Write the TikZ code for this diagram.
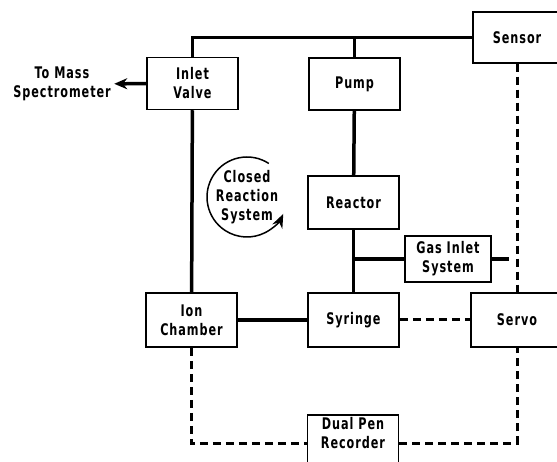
\documentclass[tikz,border=0pt]{standalone}
\usepackage{fontspec}
\newfontfamily\diafont[FakeStretch=0.78, LetterSpace=6]{DejaVu Sans Condensed}
\usetikzlibrary{arrows.meta, positioning}

\begin{document}
\begin{tikzpicture}[x=1pt, y=-1pt,
        >=Stealth,
        box/.style={draw, line width=1.5pt, minimum width=91pt, minimum height=52pt,
        align=center, inner sep=3pt, font=\fontsize{16}{19}\selectfont\diafont\bfseries},
        pipe/.style={line width=3.5pt},
        sig/.style={line width=3pt, dash pattern=on 8pt off 5pt},
        arr/.style={->, line width=3.5pt, >={Stealth[length=13pt, width=11pt]}},
        lbl/.style={align=center, font=\fontsize{16}{19}\selectfont\diafont\bfseries}
      ]
      \useasboundingbox (0,0) rectangle (557,462);

      % Nodes
      \node[box] (inlet) at (192.5, 83.5) {Inlet\\Valve};
      \node[box] (pump) at (354.5, 84) {Pump};
      \node[box, minimum width=88pt, minimum height=51pt] (sensor) at (517, 37.5) {Sensor};
      \node[box, minimum height=53pt] (reactor) at (353.5, 202.5) {Reactor};
      \node[box, minimum width=86pt, minimum height=46pt] (gas) at (448, 259) {Gas Inlet\\System};
      \node[box, minimum height=54pt] (ion) at (191.5, 320) {Ion\\Chamber};
      \node[box, minimum height=54pt] (syringe) at (353.5, 320) {Syringe};
      \node[box, minimum width=92pt, minimum height=54pt] (servo) at (517, 320) {Servo};
      \node[box, anchor=north, text depth=20pt] (rec) at (353, 414) {Dual Pen\\Recorder};
      \node[lbl] (mass) at (62, 84) {To Mass\\Spectrometer};
      \node[lbl] (closed) at (247, 197) {Closed\\Reaction\\System};
      \coordinate (gasend) at (509, 259);

      % Flow lines (solid)
      \draw[pipe] (inlet.north) |- (sensor.west);
      \draw[pipe] (pump.north) -- (pump.north |- sensor.west);
      \draw[pipe] (inlet) -- (ion);
      \draw[pipe] (pump) -- (reactor);
      \draw[pipe] (reactor) -- (syringe);
      \draw[pipe] (gas.west) -- (gas.west -| reactor.south);
      \draw[pipe] (gas.east) -- (gasend);
      \draw[pipe] (ion) -- (syringe);

      % Signal lines (dashed)
      \draw[sig] (sensor) -- (servo);
      \draw[sig] (syringe) -- (servo);
      \draw[sig] (ion.south) |- (rec.west);
      \draw[sig] (rec.east) -| (servo.south);

      % Outlet arrow
      \draw[arr] (inlet) -- (mass);

      % Loop arrow
      \draw[line width=1.5pt, -{Stealth[length=14pt, width=11pt]}]
      ([shift={(57:40pt)}]closed.center) arc[start angle=57, end angle=335, radius=40pt];
    \end{tikzpicture}
\end{document}
